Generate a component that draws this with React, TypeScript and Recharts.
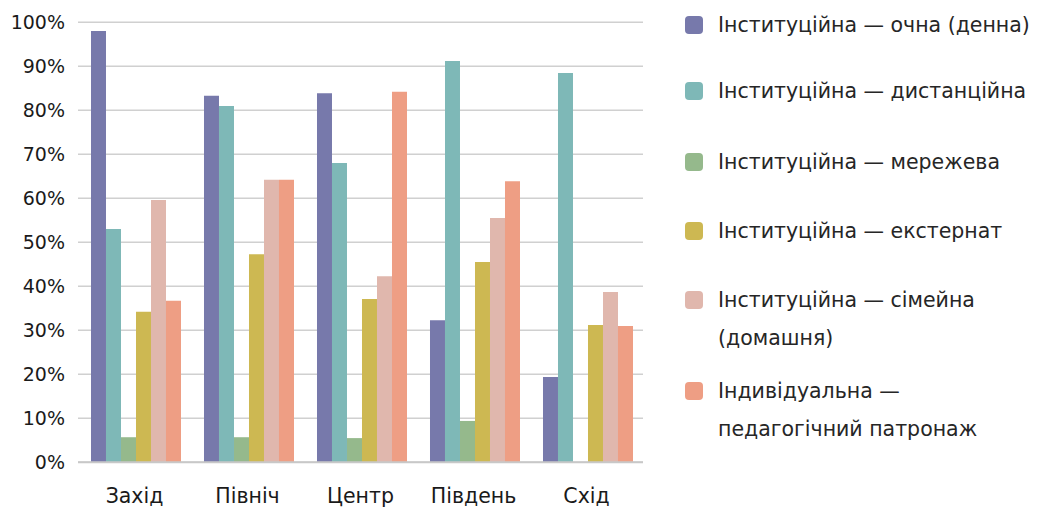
import { BarChart, Bar, XAxis, YAxis, CartesianGrid, Legend } from "recharts";

const regions = ["Захід", "Північ", "Центр", "Південь", "Схід"];

const seriesNames = [
    "Інституційна — очна (денна)",
    "Інституційна — дистанційна",
    "Інституційна — мережева",
    "Інституційна — екстернат",
    "Інституційна — сімейна (домашня)",
    "Індивідуальна — педагогічний патронаж",
];

// legend lines as they wrap in the original
const legendLines = [
    ["Інституційна — очна (денна)"],
    ["Інституційна — дистанційна"],
    ["Інституційна — мережева"],
    ["Інституційна — екстернат"],
    ["Інституційна — сімейна", "(домашня)"],
    ["Індивідуальна —", "педагогічний патронаж"],
];

const ochna = [98.0, 83.3, 83.9, 32.3, 19.4];
const dystantsiina = [53.0, 81.0, 68.0, 91.2, 88.5];
const merezheva = [5.7, 5.7, 5.5, 9.4, 0];
const eksternat = [34.2, 47.3, 37.1, 45.5, 31.2];
const simeina = [59.6, 64.2, 42.3, 55.5, 38.7];
const patronazh = [36.7, 64.2, 84.2, 63.9, 31.0];

const yTicks = [0, 10, 20, 30, 40, 50, 60, 70, 80, 90, 100];

const colors = ["#7779ab", "#7eb8b7", "#95b98c", "#cdb852", "#e0b7ad", "#ee9e84"];

const allSeries = [ochna, dystantsiina, merezheva, eksternat, simeina, patronazh];

const data = regions.map((region, i) => {
    const row: Record<string, string | number> = { region };
    allSeries.forEach((s, k) => {
        row["s" + k] = s[i];
    });
    return row;
});

const FONT = "'DejaVu Sans', sans-serif";

const itemGaps = [0, 28, 33, 31, 31, 15];

const renderLegend = () => {
    return (
        <div style={{ fontFamily: FONT, fontSize: 20.5, color: "#262626" }}>
            {legendLines.map((lines, i) => (
                <div key={i} style={{ display: "flex", alignItems: "flex-start", marginTop: itemGaps[i] }}>
                    <div style={{
                        width: 18, height: 18, borderRadius: 4, background: colors[i],
                        marginTop: 10, marginRight: 15, flex: "none",
                    }} />
                    <div style={{ lineHeight: "38px", whiteSpace: "nowrap" }}>
                        {lines.map((l, j) => <div key={j}>{l}</div>)}
                    </div>
                </div>
            ))}
        </div>
    );
};

export default function App() {
    return (
        <BarChart
            width={1027}
            height={502}
            data={data}
            barGap={0}
            barCategoryGap="11.5%"
            margin={{ top: 14.3, right: 392, left: 0, bottom: 17.7 }}
        >
            <CartesianGrid vertical={false} stroke="#d0d0d0" strokeWidth={1.5} />
            <XAxis
                dataKey="region"
                height={30}
                axisLine={{ stroke: "#c8c8c8", strokeWidth: 2 }}
                tickLine={false}
                tickMargin={20}
                tick={{ fill: "#1a1a1a", fontSize: 20.5, fontFamily: FONT }}
            />
            <YAxis
                width={70}
                domain={[0, 100]}
                ticks={yTicks}
                axisLine={false}
                tickLine={false}
                tickMargin={7}
                tickFormatter={(v: number) => `${v}%`}
                tick={{ fill: "#1a1a1a", fontSize: 19, fontFamily: FONT }}
            />
            <Legend
                content={renderLegend}
                layout="vertical"
                align="center"
                verticalAlign="middle"
                wrapperStyle={{ top: -2, left: 677, width: 366 }}
            />
            {seriesNames.map((name, k) => (
                <Bar key={k} dataKey={"s" + k} name={name} fill={colors[k]} isAnimationActive={false} />
            ))}
        </BarChart>
    );
}
